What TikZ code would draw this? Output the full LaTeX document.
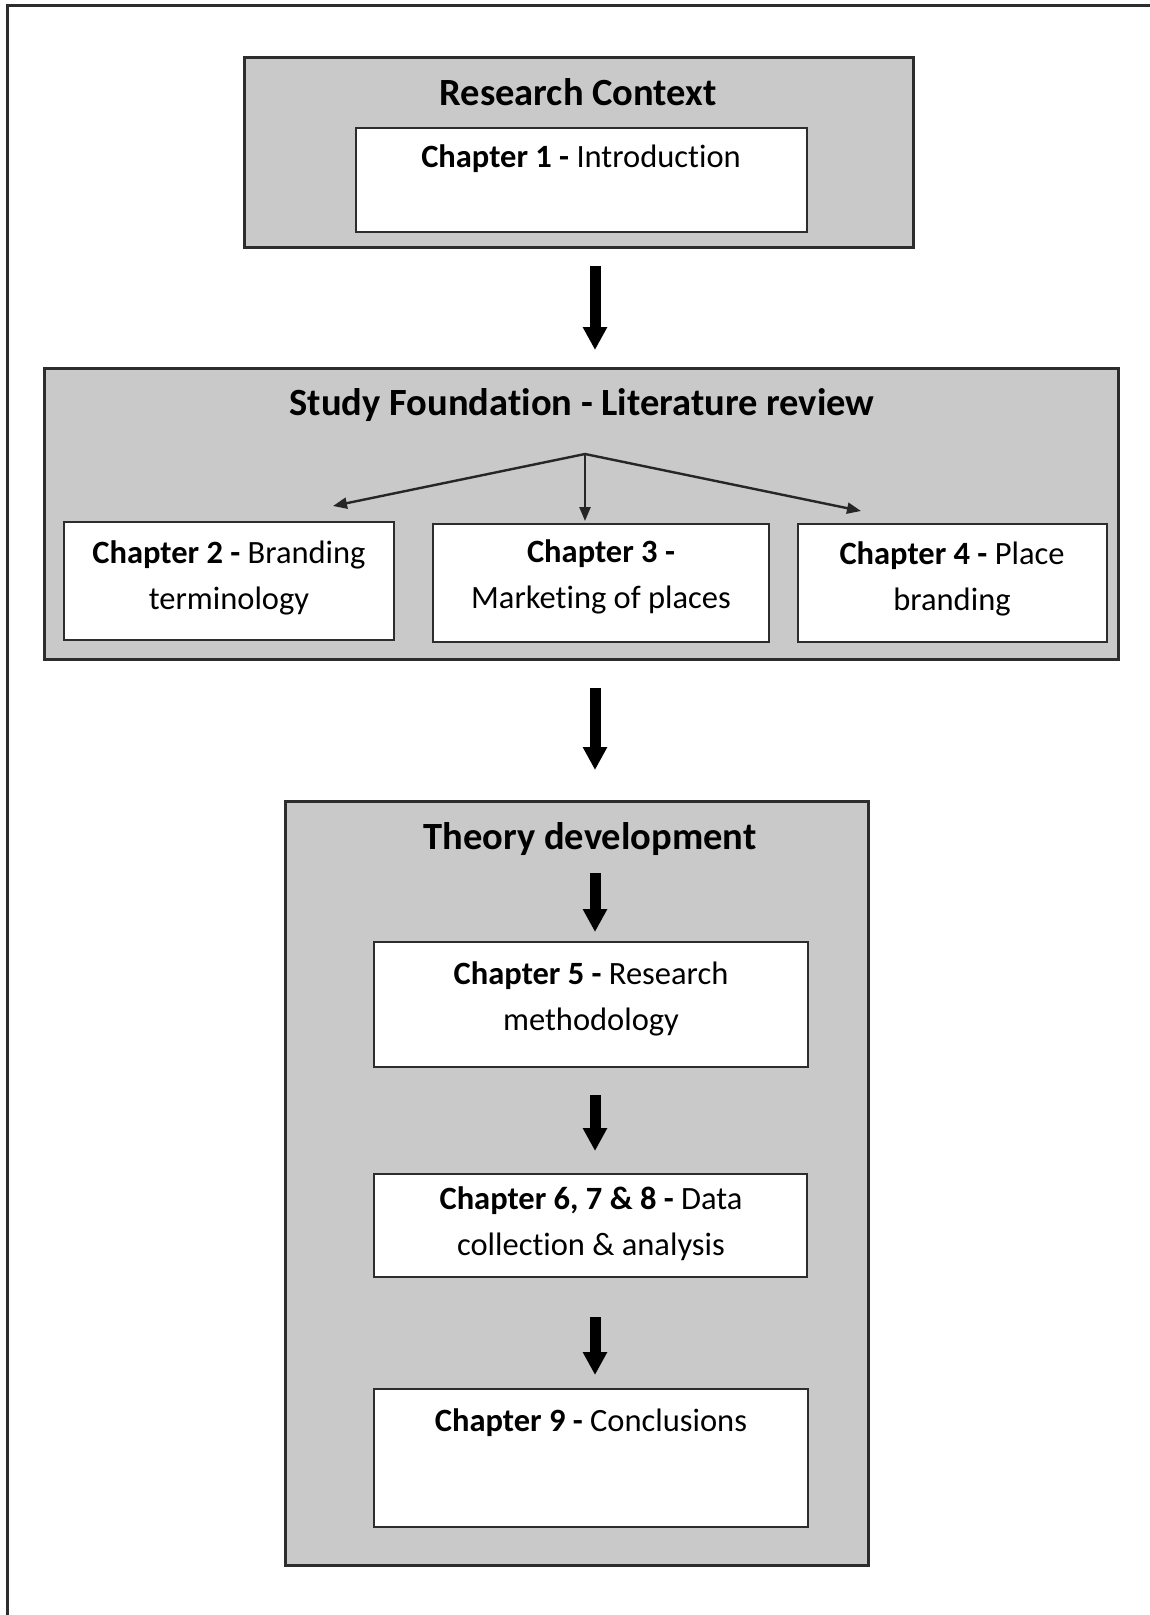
\documentclass[tikz,border=0pt]{standalone}
\usepackage{fontspec}
\setmainfont[Ligatures=NoCommon]{Carlito}
\usetikzlibrary{arrows.meta}
\definecolor{panelgray}{RGB}{201,201,201}
\definecolor{edgegray}{RGB}{45,45,45}
\tikzset{
  panel/.style={draw=edgegray, line width=3pt, fill=panelgray, inner sep=0pt, outer sep=0pt},
  chapbox/.style={draw=edgegray, line width=2.5pt, fill=white, inner sep=0pt, outer sep=0pt},
  paneltitle/.style={font=\fontsize{38.5}{46}\selectfont\bfseries, inner sep=0pt},
  chaptext/.style={font=\fontsize{32.5}{46}\selectfont, align=center, inner sep=0pt},
  flowarrow/.style={draw=black, line width=11pt, -{Triangle[width=23pt,length=23pt]}},
  splitarrow/.style={draw=black!85, line width=2.4pt, -{Triangle[width=11pt,length=14pt]}}
}
\begin{document}
\begin{tikzpicture}[x=1pt,y=-1pt]
\useasboundingbox (0,0) rectangle (1150,1615);
\fill[white] (0,0) rectangle (1150,1615);

% page frame
\draw[edgegray, line width=3pt] (7,1615) -- (7,5) -- (1150,5);

\coordinate (axis) at (595,0);

% Research context
\node[panel, minimum width=669pt, minimum height=190pt] (rc) at (578.5,152) {};
\node[paneltitle] (rctitle) at (578,92) {Research Context};
\node[chapbox, minimum width=451pt, minimum height=104pt] (ch1) at (581.5,180) {};
\node[chaptext] (ch1t) at (581,159) {\textbf{Chapter 1 -} Introduction};

% Study foundation
\node[panel, minimum width=1074pt, minimum height=291pt] (sf) at (581,513.5) {};
\node[paneltitle] (sftitle) at (582,405) {Study Foundation - Literature review};
\node[chapbox, minimum width=330pt, minimum height=118pt] (ch2) at (229,581) {};
\node[chapbox, minimum width=336pt, minimum height=118pt] (ch3) at (601,583) {};
\node[chapbox, minimum width=309pt, minimum height=118pt] (ch4) at (952.5,583) {};
\node[chaptext] (ch2t) at (229,578) {\textbf{Chapter 2 -} Branding\\terminology};
\node[chaptext] (ch3t) at (601,577) {\textbf{Chapter 3 -}\\Marketing of places};
\node[chaptext] (ch4t) at (952,579) {\textbf{Chapter 4 -} Place\\branding};

% Theory development
\node[panel, minimum width=583pt, minimum height=764pt] (td) at (576.5,1183) {};
\node[paneltitle] (tdtitle) at (590,839) {Theory development};
\node[chapbox, minimum width=434pt, minimum height=125pt] (ch5) at (591,1004.5) {};
\node[chapbox, minimum width=433pt, minimum height=103pt] (ch6) at (590.5,1225.5) {};
\node[chapbox, minimum width=434pt, minimum height=138pt] (ch9) at (591,1458) {};
\node[chaptext] (ch5t) at (591,999) {\textbf{Chapter 5 -} Research\\methodology};
\node[chaptext] (ch6t) at (591,1224) {\textbf{Chapter 6, 7 \& 8 -} Data\\collection \& analysis};
\node[chaptext] (ch9t) at (591,1423) {\textbf{Chapter 9 -} Conclusions};

% main flow
\draw[flowarrow, shorten <=19pt, shorten >=18pt] (rc.south -| axis) -- (sf.north -| axis);
\draw[flowarrow, shorten <=29pt, shorten >=31pt] (sf.south -| axis) -- (td.north -| axis);
\coordinate (tdstart) at (595,873);
\draw[flowarrow, shorten >=10pt] (tdstart) -- (ch5.north -| axis);
\draw[flowarrow, shorten <=28pt, shorten >=23pt] (ch5.south -| axis) -- (ch6.north -| axis);
\draw[flowarrow, shorten <=40pt, shorten >=14pt] (ch6.south -| axis) -- (ch9.north -| axis);

% literature review split
\coordinate (split) at (585,454);
\coordinate (tip2) at (333,506);
\coordinate (tip4) at (861,511);
\draw[splitarrow] (split) -- (tip2);
\draw[splitarrow, shorten >=3pt] (split) -- (ch3.north -| split);
\draw[splitarrow] (split) -- (tip4);
\end{tikzpicture}
\end{document}
